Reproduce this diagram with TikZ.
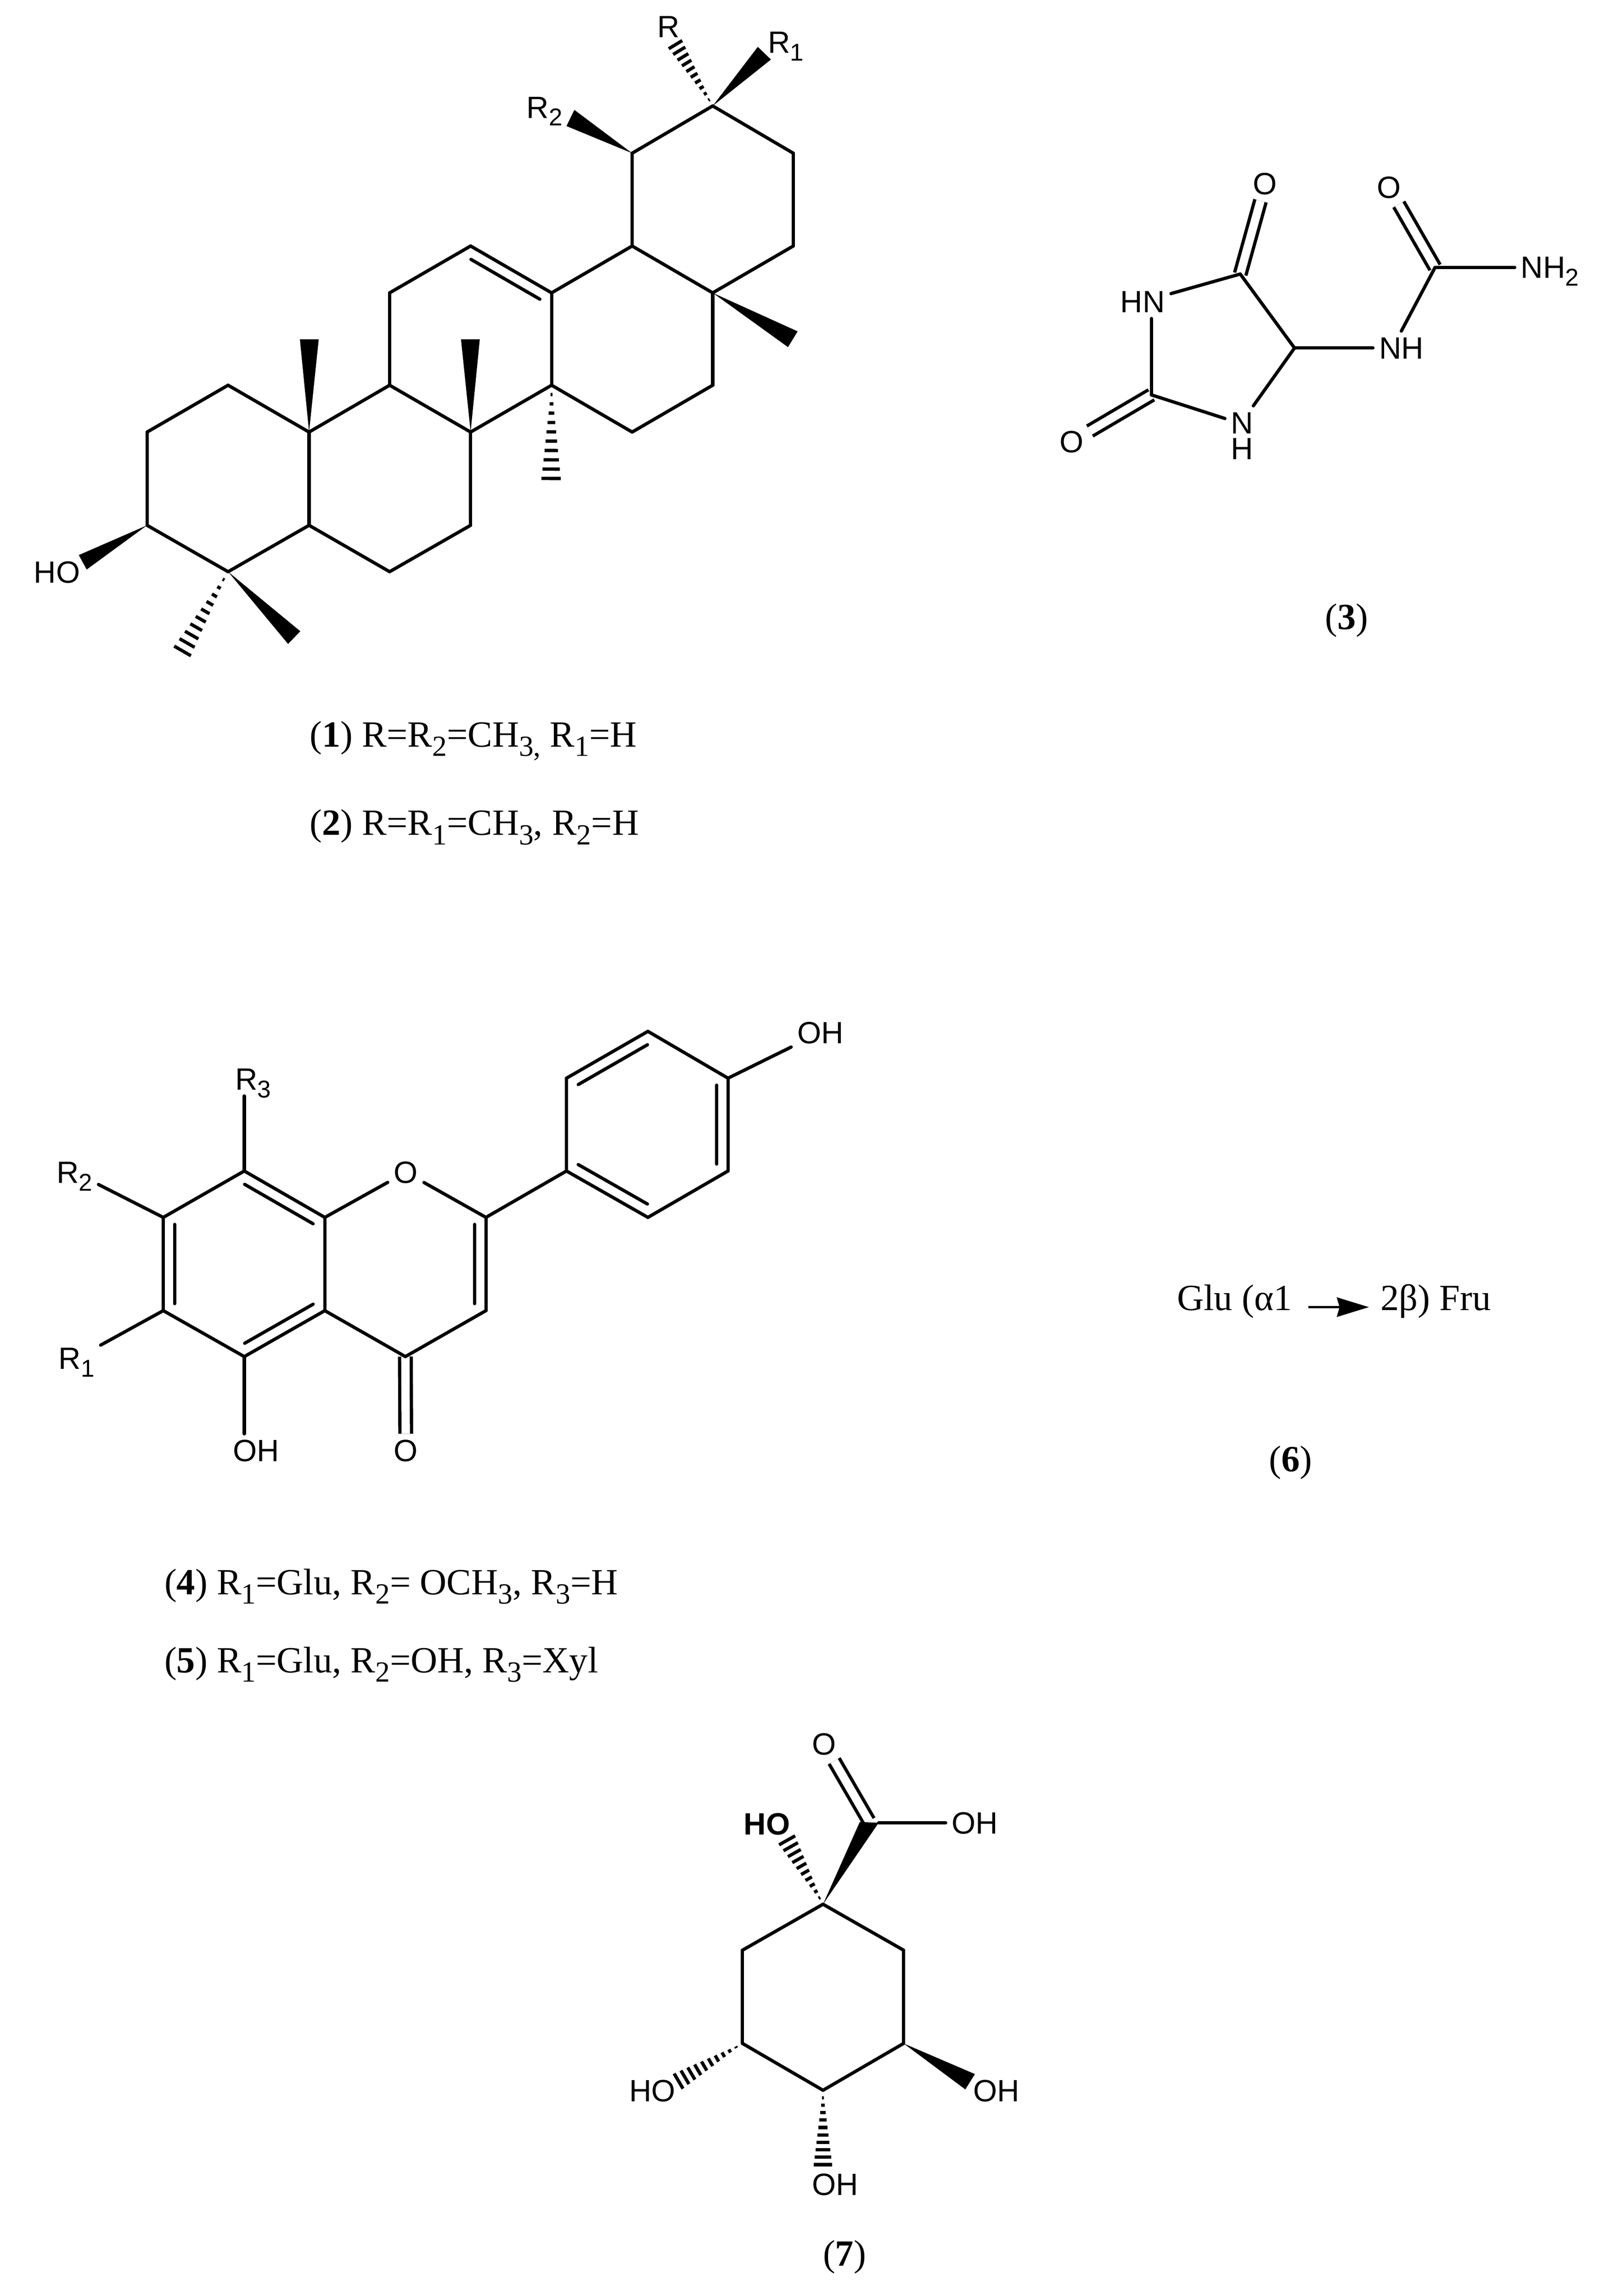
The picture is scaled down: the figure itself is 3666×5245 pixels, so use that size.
\documentclass[tikz,border=0pt]{standalone}
\usepackage{fontspec}
\usepackage{graphicx}
\usetikzlibrary{calc,arrows.meta}
\setmainfont{Liberation Serif}
\newfontfamily\labelfont{Liberation Sans}
\newcommand{\lowsub}[1]{\raisebox{-.25em}{\scalebox{.79}{#1}}}
\newcommand{\hashbond}[3]{%
  \foreach \hh in {0.1,0.2,...,1.01}
    \draw[line width=.075cm] ($(#1)!\hh!(#2)!\hh*#3!90:(#1)$) -- ($(#1)!\hh!(#2)!\hh*#3!-90:(#1)$);}
\newcommand{\innerbond}[2]{%
  \draw[bond] ($(#1)!.075!(#2)!.26cm!90:(#2)$) -- ($(#2)!.075!(#1)!.26cm!-90:(#1)$);}

\begin{document}
\begin{tikzpicture}
  [x=.01cm,y=-.01cm,
   bond/.style={line width=.075cm,line cap=round},
   dblbond/.style={double,double distance=.19cm,line width=.075cm},
   atomlabel/.style={font=\labelfont\fontsize{20}{24}\selectfont,inner sep=4pt,outer sep=0pt,text height=14pt,text depth=0pt},
   capt/.style={font=\fontsize{24}{28}\selectfont,anchor=base west,inner sep=0pt},
   sugar/.style={font=\fontsize{24}{28}\selectfont,anchor=west,outer sep=0pt,inner ysep=0pt,text height=.3cm,text depth=.16cm}]
  \useasboundingbox (0,0) rectangle (3666,5245);

  % triterpene
  \coordinate (a1) at (336,987);
  \coordinate (a2) at (521,880);
  \coordinate (a3) at (706,987);
  \coordinate (a4) at (706,1200);
  \coordinate (a5) at (521,1306);
  \coordinate (a6) at (336,1200);
  \coordinate (b1) at (890,880);
  \coordinate (b2) at (1075,987);
  \coordinate (b3) at (1075,1200);
  \coordinate (b4) at (890,1306);
  \coordinate (c1) at (890,669);
  \coordinate (c2) at (1075,562);
  \coordinate (c3) at (1260,669);
  \coordinate (c4) at (1260,880);
  \coordinate (d1) at (1444,562);
  \coordinate (d2) at (1628,669);
  \coordinate (d3) at (1628,880);
  \coordinate (d4) at (1444,987);
  \coordinate (e1) at (1444,350);
  \coordinate (e2) at (1628,242);
  \coordinate (e3) at (1812,350);
  \coordinate (e4) at (1812,562);

  \coordinate (m1a) at (685,775);
  \coordinate (m1b) at (728,775);
  \coordinate (m2a) at (1053,775);
  \coordinate (m2b) at (1096,775);
  \coordinate (m3a) at (1822,757);
  \coordinate (m3b) at (1800,793);
  \coordinate (m4a) at (1312,251);
  \coordinate (m4b) at (1294,288);
  \coordinate (m5a) at (1731,107);
  \coordinate (m5b) at (1761,136);
  \coordinate (m6a) at (180,1268);
  \coordinate (m6b) at (198,1301);
  \coordinate (m7a) at (686,1442);
  \coordinate (m7b) at (658,1471);
  \coordinate (h1) at (1259,1093);
  \coordinate (h2) at (417,1487);
  \coordinate (h3) at (1543,102);

  \node[atomlabel] (rr) at (1527,61) {R};
  \node[atomlabel] (rone) at (1795,97) {R\lowsub{1}};
  \node[atomlabel] (rtwo) at (1244,245) {R\lowsub{2}};
  \node[atomlabel] (hoa) at (130,1307) {HO};

  \foreach \from/\to in {a1/a2,a2/a3,a3/a4,a4/a5,a5/a6,a6/a1,a3/b1,b1/b2,b2/b3,b3/b4,b4/a4,
      b1/c1,c1/c2,c2/c3,c3/c4,c4/b2,c3/d1,d1/d2,d2/d3,d3/d4,d4/c4,d1/e1,e1/e2,e2/e3,e3/e4,e4/d2}
    \draw[bond] (\from) -- (\to);
  \innerbond{c3}{c2}

  \foreach \tip/\p/\q in {a3/m1a/m1b,b2/m2a/m2b,d2/m3a/m3b,e1/m4a/m4b,e2/m5a/m5b,a6/m6a/m6b,a5/m7a/m7b}
    \fill (\tip) -- (\p) -- (\q) -- cycle;
  \hashbond{c4}{h1}{.22cm}
  \hashbond{a5}{h2}{.22cm}
  \hashbond{e2}{h3}{.18cm}

  \node[capt] (capa) at (707,1706) {(\textbf{1}) R=R\lowsub{2}=CH\lowsub{3,} R\lowsub{1}=H};
  \node[capt] (capb) at (707,1908) {(\textbf{2}) R=R\lowsub{1}=CH\lowsub{3}, R\lowsub{2}=H};

  % allantoin
  \coordinate (k1) at (2833,626);
  \coordinate (k2) at (2957,795);
  \coordinate (k3) at (2630,902);
  \coordinate (cu) at (3278,611);
  \coordinate (nl) at (2798,956);
  \coordinate (nt) at (2863,927);
  \node[atomlabel] (hn) at (2610,689) {HN};
  \node[font=\labelfont\fontsize{20}{16.8}\selectfont,align=center,inner sep=0pt] (nb) at (2837,996) {N\\H};
  \node[atomlabel] (ok) at (2890,420) {O};
  \node[atomlabel] (ol) at (2448,1009) {O};
  \node[atomlabel] (nhu) at (3201,795) {NH};
  \node[atomlabel] (ou) at (3173,428) {O};
  \node[atomlabel,anchor=west] (nht) at (3460,611) {NH\lowsub{2}};

  \foreach \from/\to in {k1/ok,k3/ol,cu/ou}
    \draw[dblbond] (\from) -- (\to);
  \foreach \from/\to in {k1/k2,k1/hn,k3/nl,k2/nt,k2/nhu,cu/nht}
    \draw[bond] (\from) -- (\to);
  \draw[bond] (k3) -- (k3 |- hn.south);
  \draw[bond] (cu) -- (nhu.north);

  \node[capt,anchor=base] (capc) at (3076,1438) {(\textbf{3})};

  % flavone
  \coordinate (f1) at (558,2675);
  \coordinate (f2) at (742,2781);
  \coordinate (f3) at (742,2994);
  \coordinate (f4) at (558,3099);
  \coordinate (f5) at (373,2994);
  \coordinate (f6) at (373,2781);
  \coordinate (g1) at (1110,2781);
  \coordinate (g2) at (1110,2994);
  \coordinate (g3) at (926,3099);
  \coordinate (p1) at (1294,2675);
  \coordinate (p2) at (1294,2463);
  \coordinate (p3) at (1480,2356);
  \coordinate (p4) at (1663,2463);
  \coordinate (p5) at (1663,2675);
  \coordinate (p6) at (1480,2781);

  \node[atomlabel] (oring) at (927,2678) {O};
  \node[atomlabel] (ohp) at (1874,2359) {OH};
  \node[atomlabel] (rthr) at (578,2465) {R\lowsub{3}};
  \node[atomlabel] (rtw) at (170,2678) {R\lowsub{2}};
  \node[atomlabel] (ron) at (175,3103) {R\lowsub{1}};
  \node[atomlabel] (ohf) at (585,3314) {OH};
  \node[atomlabel] (ocar) at (927,3314) {O};

  \draw[dblbond] (g3) -- (ocar);
  \foreach \from/\to in {f1/f2,f2/f3,f3/f4,f4/f5,f5/f6,f6/f1,f2/oring,oring/g1,g1/g2,g2/g3,g3/f3,
      g1/p1,p1/p2,p2/p3,p3/p4,p4/p5,p5/p6,p6/p1,p4/ohp,f6/rtw,f5/ron}
    \draw[bond] (\from) -- (\to);
  \draw[bond] (f1) -- (f1 |- rthr.south);
  \draw[bond] (f4) -- (f4 |- ohf.north);
  \foreach \from/\to in {f6/f5,f4/f3,f2/f1,g2/g1,p1/p6,p5/p4,p3/p2}
    {\innerbond{\from}{\to}}

  \node[capt] (capd) at (375,3643) {(\textbf{4}) R\lowsub{1}=Glu, R\lowsub{2}= OCH\lowsub{3}, R\lowsub{3}=H};
  \node[capt] (cape) at (375,3821) {(\textbf{5}) R\lowsub{1}=Glu, R\lowsub{2}=OH, R\lowsub{3}=Xyl};

  % sucrose
  \node[sugar,inner xsep=.37cm] (glu) at (2652,2986) {Glu (α1};
  \node[sugar,inner xsep=.27cm] (fru) at (3127,2986) {2β) Fru};
  \draw[line width=.06cm,-{Stealth[length=.73cm,width=.44cm,inset=.06cm]}] (glu.east) -- (fru.west);
  \node[capt,anchor=base] (capf) at (2948,3361) {(\textbf{6})};

  % quinic acid
  \coordinate (q1) at (1880,4350);
  \coordinate (q2) at (2064,4455);
  \coordinate (q3) at (2064,4668);
  \coordinate (q4) at (1880,4775);
  \coordinate (q5) at (1696,4668);
  \coordinate (q6) at (1696,4455);
  \coordinate (cc) at (1985,4160);
  \coordinate (cca) at (1964,4162);
  \coordinate (ccb) at (2007,4164);
  \coordinate (w1a) at (2227,4738);
  \coordinate (w1b) at (2205,4773);
  \coordinate (s1) at (1798,4204);
  \coordinate (s2) at (1550,4754);
  \coordinate (s3) at (1880,4945);

  \node[atomlabel] (oc) at (1883,3984) {O};
  \node[atomlabel] (ohc) at (2227,4164) {OH};
  \node[atomlabel,font=\labelfont\bfseries\fontsize{20}{24}\selectfont] (hot) at (1752,4167) {HO};
  \node[atomlabel] (hol) at (1490,4776) {HO};
  \node[atomlabel] (ohr) at (2276,4776) {OH};
  \node[atomlabel] (ohb) at (1908,4990) {OH};

  \draw[dblbond] (cc) -- (oc);
  \foreach \from/\to in {q1/q2,q2/q3,q3/q4,q4/q5,q5/q6,q6/q1,ccb/ohc}
    \draw[bond] (\from) -- (\to);
  \fill (q1) -- (cca) -- (ccb) -- cycle;
  \fill (q3) -- (w1a) -- (w1b) -- cycle;
  \hashbond{q1}{s1}{.21cm}
  \hashbond{q5}{s2}{.2cm}
  \hashbond{q4}{s3}{.21cm}

  \node[capt,anchor=base] (capg) at (1929,5176) {(\textbf{7})};

\end{tikzpicture}
\end{document}
